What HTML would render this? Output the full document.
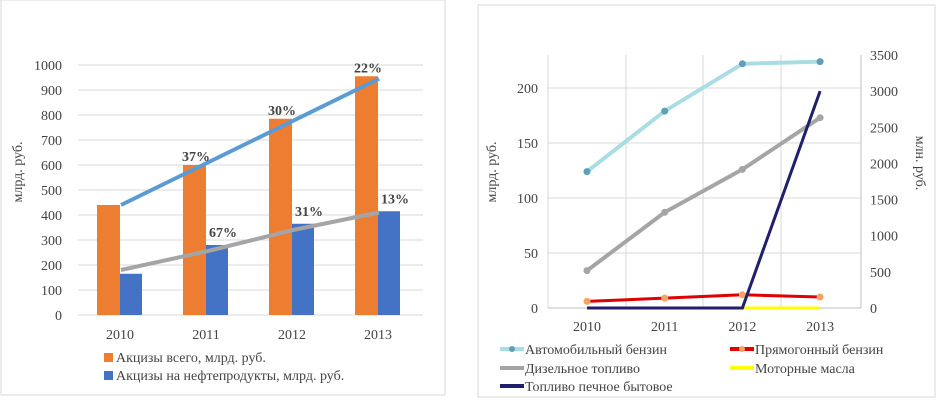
<!DOCTYPE html>
<html><head><meta charset="utf-8"><style>
body{margin:0;background:#fff;width:944px;height:405px;overflow:hidden;font-family:"Liberation Serif",serif}
svg{position:absolute;left:0;top:0}
text{font-family:"Liberation Serif",serif;fill:#444}
</style></head><body>
<svg id="c" width="944" height="405">
<rect x="1" y="0" width="444" height="395" fill="#fff" stroke="#d9d9d9"/>
<rect x="478" y="5" width="457" height="392" fill="#fff" stroke="#d9d9d9"/>
<g id="L"></g><g id="R"></g>
</svg>
<script>
const NS='http://www.w3.org/2000/svg';
function mk(p,t,a,txt){const e=document.createElementNS(NS,t);for(const k in a)e.setAttribute(k,a[k]);if(txt!==undefined)e.textContent=txt;p.appendChild(e);return e;}
// Left chart data
const years=['2010','2011','2012','2013'];
const totalExcise=[440,600,785,955];
const oilExcise=[165,280,365,415];
const totalGrowth=['','37%','30%','22%'];
const oilGrowth=['','67%','31%','13%'];
const leftTicks=[0,100,200,300,400,500,600,700,800,900,1000];
// Right chart data
const autoPetrol=[124,179,222,224];
const diesel=[34,87,126,173];
const straightRun=[6,9,12,10];
const motorOil=[null,null,0,0];
const stoveFuel=[0,0,0,3000];
const rTicksL=[0,50,100,150,200];
const rTicksR=[0,500,1000,1500,2000,2500,3000,3500];

const L=document.getElementById('L');
const ly=v=>315-v*0.25;
const lx=i=>121+i*86;
leftTicks.forEach(t=>{
 let g=mk(L,'line',{x1:78,x2:423,y1:ly(t),y2:ly(t),stroke:'#d9d9d9'});
 
 let tx=mk(L,'text',{x:62,y:ly(t)+5,'text-anchor':'end','font-size':14},t);
 
});
years.forEach((y,i)=>{
 let b=mk(L,'rect',{x:lx(i)-24,y:ly(totalExcise[i]),width:23,height:totalExcise[i]*0.25,fill:'#ed7d31'});
 
 let b2=mk(L,'rect',{x:lx(i)-1,y:ly(oilExcise[i]),width:22,height:oilExcise[i]*0.25,fill:'#4472c4'});
 
 let t=mk(L,'text',{x:lx(i)-1,y:339,'text-anchor':'middle','font-size':14},y);
 
});
let tl=mk(L,'line',{x1:lx(0),y1:ly(totalExcise[0]),x2:lx(3),y2:ly(totalExcise[3]-10),stroke:'#5b9bd5','stroke-width':4});

let ol=mk(L,'polyline',{points:[0,1,2,3].map(i=>lx(i)+','+ly([180,255,340,410][i])).join(' '),fill:'none',stroke:'#a5a5a5','stroke-width':4});

years.forEach((y,i)=>{
 if(totalGrowth[i]){let t=mk(L,'text',{x:lx(i)-11,y:ly(totalExcise[i])-4,'text-anchor':'middle','font-size':14,'font-weight':'bold',fill:'#404040'},totalGrowth[i]);
 }
 if(oilGrowth[i]){let t=mk(L,'text',{x:lx(i)+16,y:ly(oilExcise[i])-8,'text-anchor':'middle','font-size':14,'font-weight':'bold',fill:'#404040'},oilGrowth[i]);
 }
});
let yt=mk(L,'text',{x:0,y:0,transform:'translate(22,172) rotate(-90)','text-anchor':'middle','font-size':14},'млрд. руб.');

[['#ed7d31','Акцизы всего, млрд. руб.',361],['#4472c4','Акцизы на нефтепродукты, млрд. руб.',379]].forEach(d=>{
 let r=mk(L,'rect',{x:104,y:d[2]-8,width:9,height:9,fill:d[0]});
 
 let t=mk(L,'text',{x:116,y:d[2]+1,'font-size':14},d[1]);
 
});

const R=document.getElementById('R');
const ry=v=>308-v*1.1;
const ryR=v=>308-v*253/3500;
const rx=i=>587+i*77.7;
rTicksL.forEach(t=>{
 if(t>0){let g=mk(R,'line',{x1:548,x2:861,y1:ry(t),y2:ry(t),stroke:'#d9d9d9'});
 }
 let tx=mk(R,'text',{x:538,y:ry(t)+5,'text-anchor':'end','font-size':14},t);
 
});
rTicksR.forEach(t=>{
 let tx=mk(R,'text',{x:870,y:ryR(t)+5,'font-size':14},t);
 
});
[548,626,703,781].forEach(x=>{let g=mk(R,'line',{x1:x,x2:x,y1:55,y2:308,stroke:'#d9d9d9'});
 });
let ax=mk(R,'line',{x1:548,x2:861,y1:308,y2:308,stroke:'#bfbfbf'});
let ax2=mk(R,'line',{x1:861,x2:861,y1:55,y2:308,stroke:'#bfbfbf'});
years.forEach((y,i)=>{let t=mk(R,'text',{x:rx(i),y:331,'text-anchor':'middle','font-size':14},y);
 });
function series(vals,yf,color,w,name,marker){
 const pts=[];vals.forEach((v,i)=>{if(v!==null)pts.push([rx(i),yf(v)]);});
 let p=mk(R,'polyline',{points:pts.map(p=>p.join(',')).join(' '),fill:'none',stroke:color,'stroke-width':w});
 
 if(marker)pts.forEach(q=>{let c=mk(R,'circle',{cx:q[0],cy:q[1],r:3.5,fill:marker});
  });
}
series(autoPetrol,ry,'#a9dde3',4,'auto-petrol-line','#5f9fb8');
series(diesel,ry,'#a5a5a5',4,'diesel-line','#a5a5a5');
series(straightRun,ry,'#e00000',3,'straight-run-line','#f4a460');
series(motorOil,ryR,'#ffff00',3,'motor-oil-line',null);
series(stoveFuel,ryR,'#1f1f6e',3,'stove-fuel-line',null);
let t1=mk(R,'text',{x:0,y:0,transform:'translate(496,172) rotate(-90)','text-anchor':'middle','font-size':14},'млрд. руб.');

let t2=mk(R,'text',{x:0,y:0,transform:'translate(916,163) rotate(90)','text-anchor':'middle','font-size':14},'млн. руб.');

[['#a9dde3','Автомобильный бензин',500,349,'#5f9fb8'],['#e00000','Прямогонный бензин',730,349,'#f4a460'],['#a5a5a5','Дизельное топливо',500,368,null],['#ffff00','Моторные масла',730,368,null],['#1f1f6e','Топливо печное бытовое',500,386,null]].forEach(d=>{
 let l=mk(R,'line',{x1:d[2],x2:d[2]+24,y1:d[3],y2:d[3],stroke:d[0],'stroke-width':4});
 
 if(d[4]){let c=mk(R,'circle',{cx:d[2]+12,cy:d[3],r:3,fill:d[4]});}
 let t=mk(R,'text',{x:d[2]+25,y:d[3]+5,'font-size':14},d[1]);
 
});
</script>
</body></html>
